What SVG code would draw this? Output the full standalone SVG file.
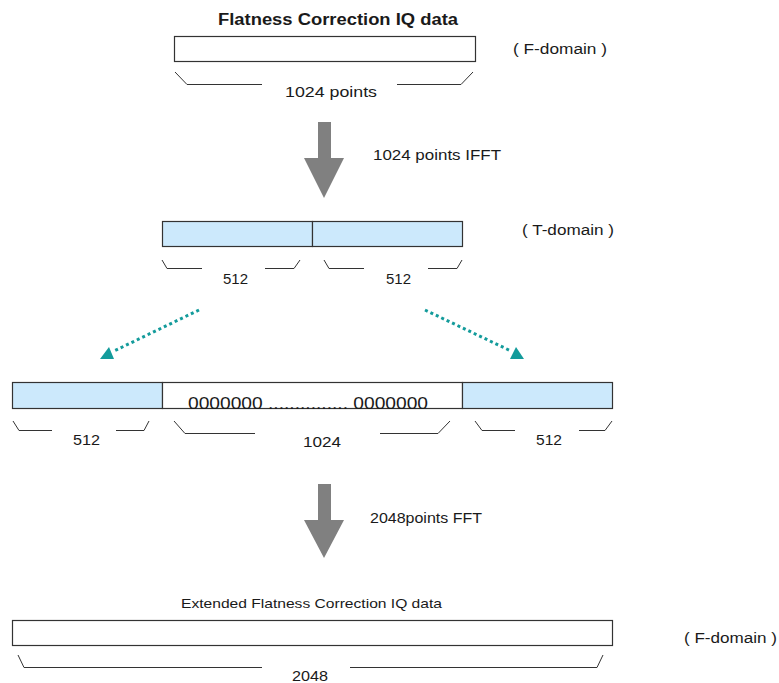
<svg xmlns="http://www.w3.org/2000/svg" width="779" height="683" viewBox="0 0 779 683">
<style>
text{font-family:"Liberation Sans",Arial,sans-serif;fill:#1a1a1a;}
.box{fill:#fff;stroke:#333;stroke-width:1.2;}
.blue{fill:#cce9fc;stroke:#333;stroke-width:1.2;}
.br{fill:none;stroke:#333;stroke-width:1;}
.blk{fill:#808080;}
.dot{fill:none;stroke:#139b9b;stroke-width:3;stroke-dasharray:3 3;}
.head{fill:#139b9b;}
</style>
<rect width="779" height="683" fill="#fff"/>
<g id="top-data">
<text x="218" y="25" font-size="16" font-weight="bold" textLength="240" lengthAdjust="spacingAndGlyphs">Flatness Correction IQ data</text>
<rect class="box" x="174.5" y="36.5" width="301" height="25"/>
<text x="513" y="54" font-size="14" textLength="94" lengthAdjust="spacingAndGlyphs">( F-domain )</text>
<path class="br" d="M175,72 L187,84.5 H262 M397,84.5 H461 L473,72"/>
<text x="285" y="97" font-size="15" textLength="92" lengthAdjust="spacingAndGlyphs">1024 points</text>
</g>
<g id="t-domain">
<rect class="blue" x="162.5" y="221.5" width="150" height="25"/>
<rect class="blue" x="312.5" y="221.5" width="150" height="25"/>
<text x="522" y="235" font-size="14" textLength="92" lengthAdjust="spacingAndGlyphs">( T-domain )</text>
<path class="br" d="M162,260 L167,268.5 H202 M265,268.5 H294 L300,260 M324,260 L329,268.5 H364 M428,268.5 H457 L462,260"/>
<text x="223" y="284" font-size="14" textLength="25" lengthAdjust="spacingAndGlyphs">512</text>
<text x="386" y="284" font-size="14" textLength="25" lengthAdjust="spacingAndGlyphs">512</text>
</g>
<g id="zero-padded">
<rect class="blue" x="12.5" y="382.5" width="150" height="26"/>
<rect class="box" x="162.5" y="382.5" width="300" height="26"/>
<rect class="blue" x="462.5" y="382.5" width="150" height="26"/>
<text x="188" y="409" font-size="17" textLength="240" lengthAdjust="spacingAndGlyphs">0000000 ............... 0000000</text>
<path class="br" d="M13,421 L19,430.5 H52 M116,430.5 H144 L149,421 M174,421 L185,433.5 H255 M380,433.5 H438 L450,421 M475,421 L482,430.5 H515 M579,430.5 H605 L612,421"/>
<text x="73" y="445" font-size="14" textLength="27" lengthAdjust="spacingAndGlyphs">512</text>
<text x="303" y="447" font-size="15" textLength="38" lengthAdjust="spacingAndGlyphs">1024</text>
<text x="536" y="445" font-size="14" textLength="26" lengthAdjust="spacingAndGlyphs">512</text>
</g>
<g id="extended-data">
<text x="181" y="608" font-size="13" textLength="261" lengthAdjust="spacingAndGlyphs">Extended Flatness Correction IQ data</text>
<rect class="box" x="12.5" y="620.5" width="600" height="25"/>
<text x="684" y="643" font-size="14" textLength="93" lengthAdjust="spacingAndGlyphs">( F-domain )</text>
<path class="br" d="M18,655 L24,667.5 H262 M350,667.5 H597 L603,655"/>
<text x="292" y="681" font-size="15" textLength="36" lengthAdjust="spacingAndGlyphs">2048</text>
</g>
<g id="connectors">
<polygon class="blk" points="318,122 331,122 331,158 344,158 324,198 304,158 318,158"/>
<text x="373" y="160" font-size="15" textLength="128" lengthAdjust="spacingAndGlyphs">1024 points IFFT</text>
<line class="dot" x1="199" y1="310" x2="114" y2="351"/>
<polygon class="head" points="100,359 114,359 109,347"/>
<line class="dot" x1="425" y1="310" x2="511" y2="351"/>
<polygon class="head" points="510,359 524,359 516,347"/>
<polygon class="blk" points="318,484 331,484 331,520 344,520 324,558 304,520 318,520"/>
<text x="370" y="523" font-size="15" textLength="112" lengthAdjust="spacingAndGlyphs">2048points FFT</text>
</g>
</svg>
